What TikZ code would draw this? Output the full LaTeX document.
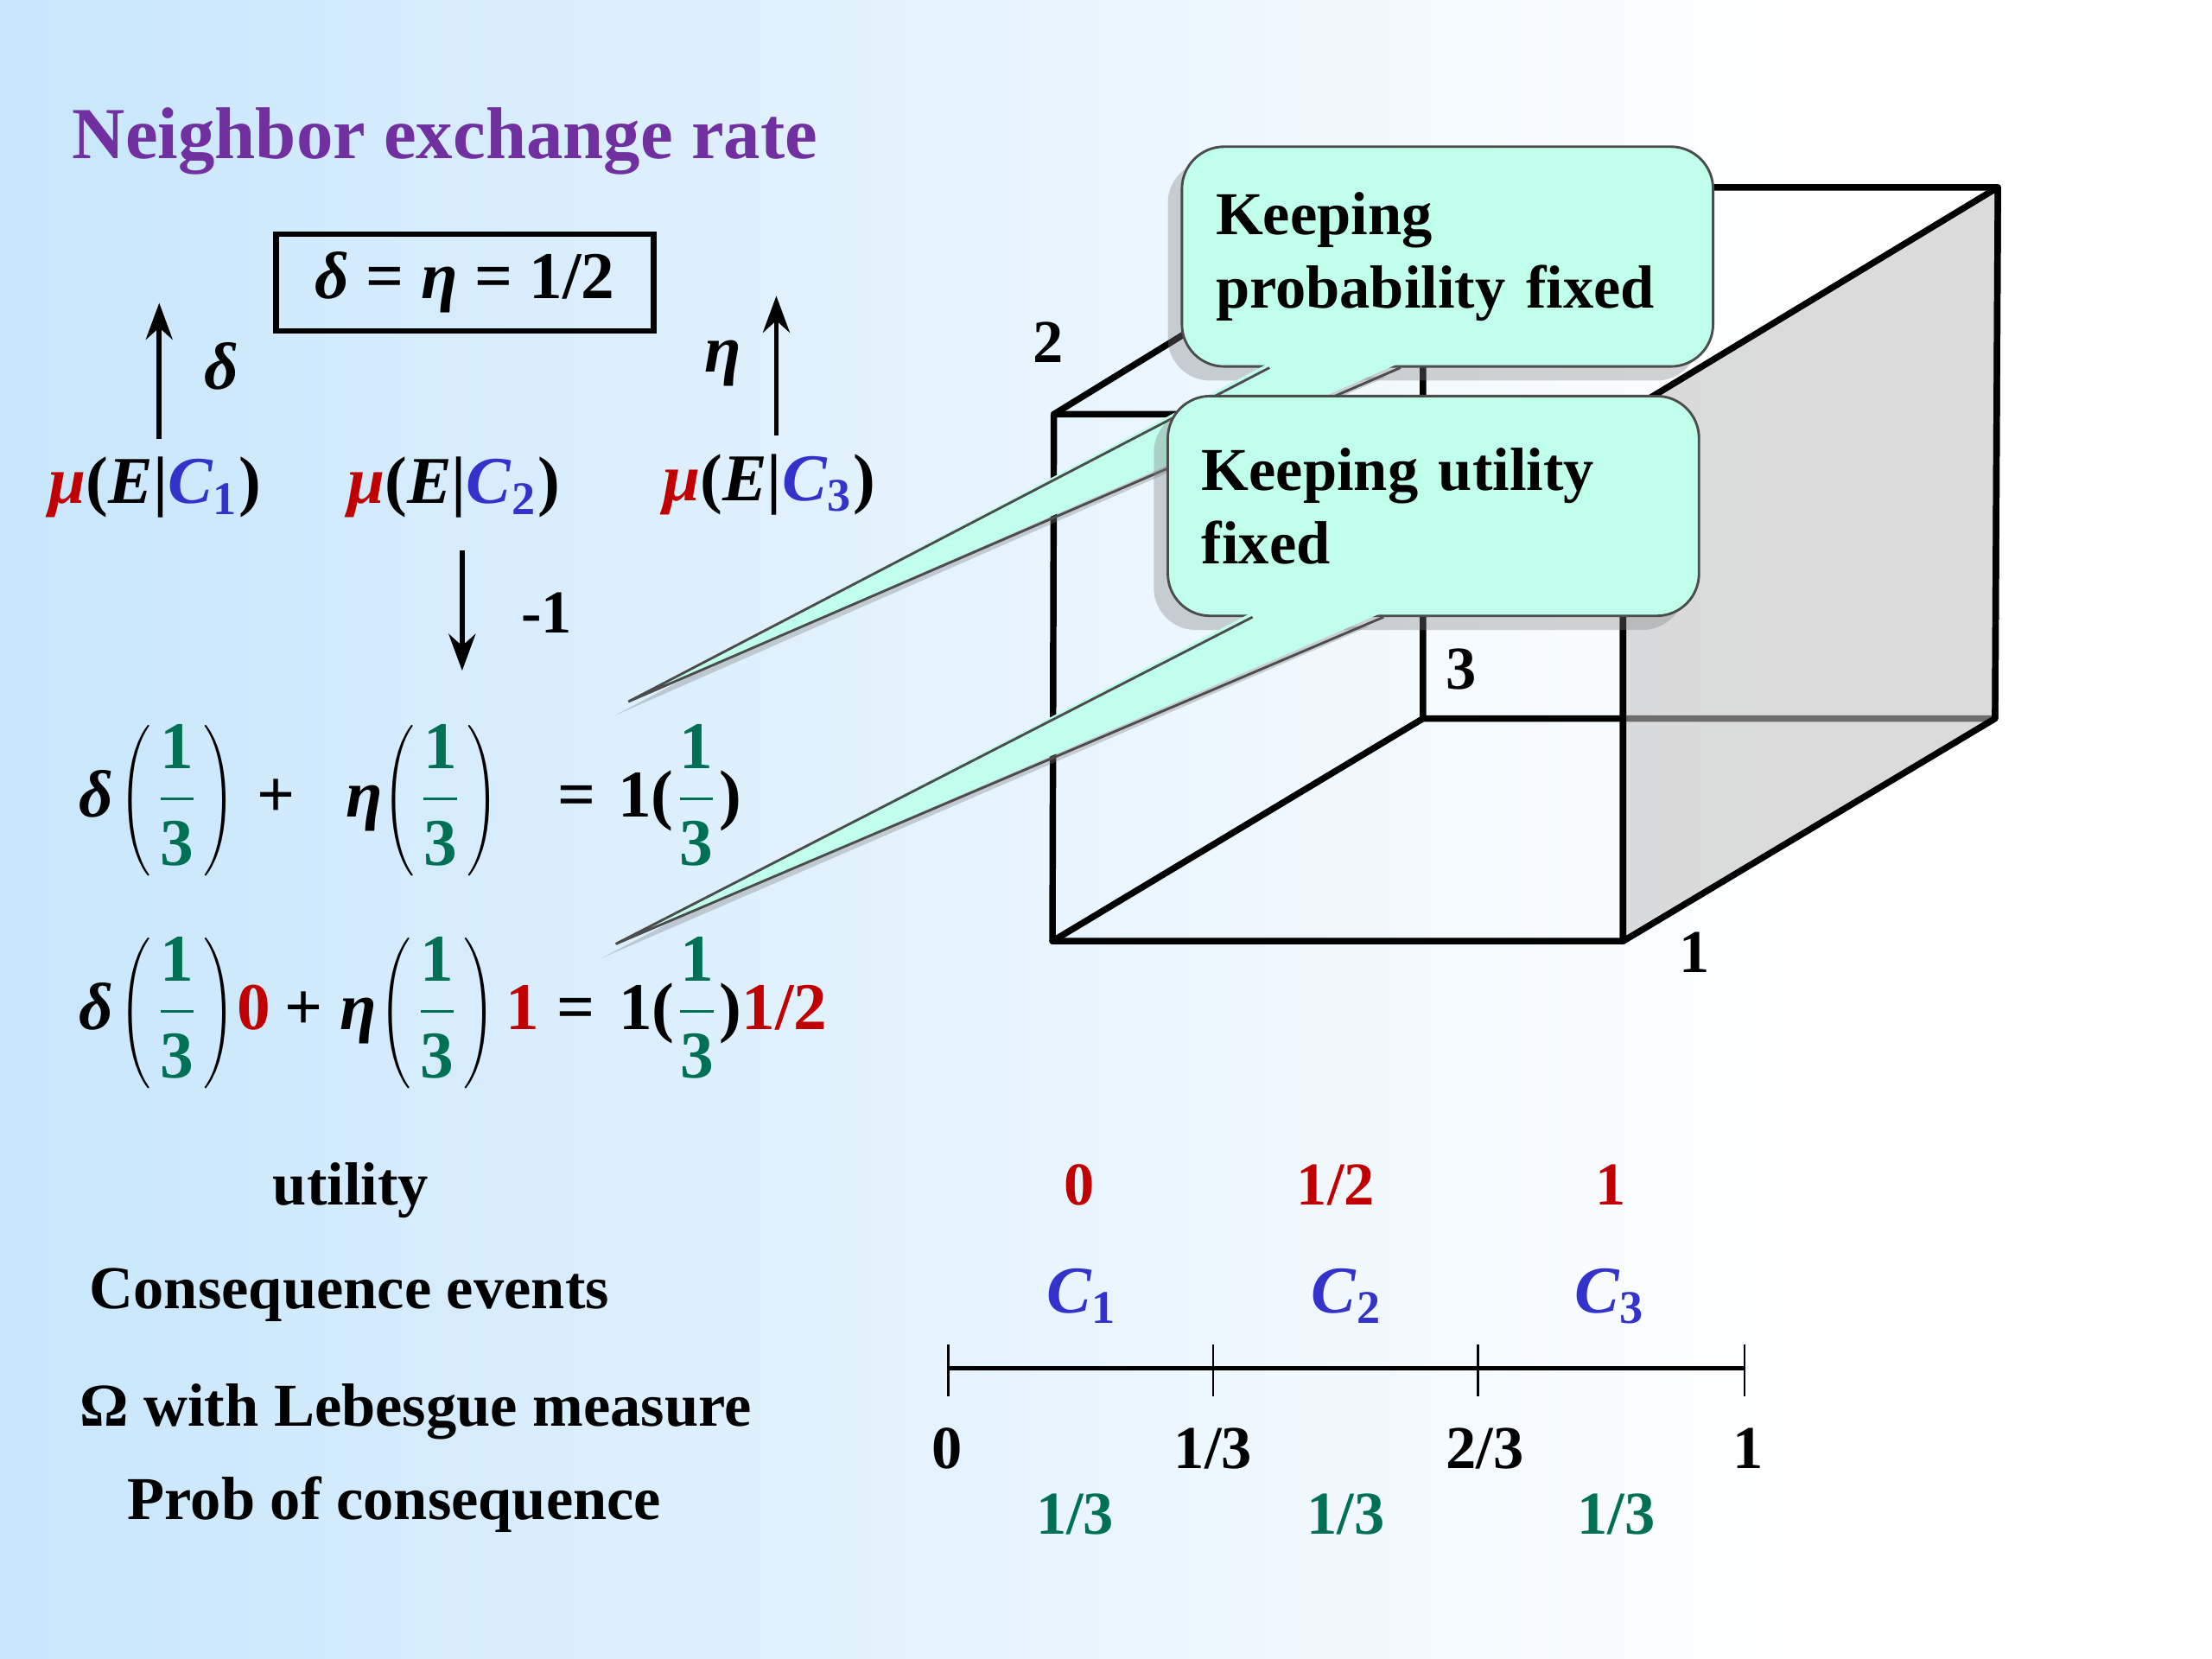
\documentclass[tikz,border=0pt]{standalone}
\usepackage{amsmath}
\usepackage{graphicx}
\usepackage{fontspec}
\setmainfont{Liberation Serif}
\usetikzlibrary{arrows.meta,shadows}
\definecolor{titlepurple}{RGB}{112,48,160}
\definecolor{valred}{RGB}{192,0,0}
\definecolor{evblue}{RGB}{51,51,204}
\definecolor{probgreen}{RGB}{0,112,84}
\definecolor{callfill}{RGB}{192,255,236}
\definecolor{bgblue}{RGB}{200,230,252}
\definecolor{facegray}{RGB}{193,193,193}
\newcommand{\gthird}{{\color{probgreen}\dfrac{\text{1}}{\text{3}}}}
\newcommand{\pfrac}{\scalebox{0.6}[0.88]{$\left(\vphantom{\gthird}\right.$}$\gthird$\scalebox{0.6}[0.88]{$\left.\vphantom{\gthird}\right)$}}
\begin{document}
\begin{tikzpicture}
  [thick,
   txt/.style = {font=\fontsize{12.3}{14.8}\selectfont\bfseries},
   mathtxt/.style = {font=\fontsize{13.5}{16}\selectfont\bfseries},
   arr/.style = {line width=1pt, -{Stealth[length=2.6mm,width=1.9mm]}},
   cubeline/.style = {line width=1.3pt, line cap=round, line join=round},
   callshadow/.style = {drop shadow={shadow xshift=-0.1cm, shadow yshift=-0.1cm, opacity=0.35}},
   callbox/.style = {txt, draw=black!70, line width=0.5pt, fill=callfill,
                     rounded corners=0.3cm, align=left, inner xsep=0.24cm,
                     text width=3.29cm, minimum height=1.56cm, callshadow}]
  \useasboundingbox (0,-0.135) rectangle (15.70,11.64);
  \fill[white] (0,-0.135) rectangle (15.70,11.64);
  \shade[left color=bgblue, right color=white] (0,-0.135) rectangle (12.8,11.64);

  \node[anchor=west, inner sep=0pt, text=titlepurple,
        font=\fontsize{14.8}{17}\selectfont\bfseries] (title) at (0.50,10.64) {Neighbor exchange rate};

  \node[mathtxt, draw, line width=1.1pt, minimum width=2.68cm, minimum height=0.69cm] (rate) at (3.30,9.635) {\textit{δ} = \textit{η} = 1/2};

  \node[mathtxt] (mu1) at (1.10,8.18) {{\color{valred}\textit{μ}}(\textit{E}|{\color{evblue}\textit{C}\textsubscript{1}})};
  \node[mathtxt] (mu2) at (3.22,8.18) {{\color{valred}\textit{μ}}(\textit{E}|{\color{evblue}\textit{C}\textsubscript{2}})};
  \node[mathtxt] (mu3) at (5.46,8.20) {{\color{valred}\textit{μ}}(\textit{E}|{\color{evblue}\textit{C}\textsubscript{3}})};

  \coordinate (dtop) at (1.13,9.49);
  \coordinate (etop) at (5.51,9.54);
  \coordinate (mbot) at (3.28,6.88);
  \draw[arr] (dtop |- mu1.north) -- (dtop);
  \draw[arr] (etop |- mu3.north) -- (etop);
  \draw[arr, shorten <=0.1cm] (mbot |- mu2.south) -- (mbot);
  \node[mathtxt] (dlab) at (1.57,9.04) {\textit{δ}};
  \node[mathtxt] (elab) at (5.13,9.06) {\textit{η}};
  \node[txt] (mone) at (3.88,7.29) {-1};

  \node[mathtxt, anchor=west, inner sep=0pt] (eqprob) at (0.55,5.96)
    {\textit{δ}\hspace{0.04cm}\pfrac\hspace{0.16cm}+\hspace{0.36cm}\textit{η}\pfrac\hspace{0.42cm}=\hspace{0.16cm}1($\gthird$)};
  \node[mathtxt, anchor=west, inner sep=0pt] (equtil) at (0.55,4.45)
    {\textit{δ}\hspace{0.04cm}\pfrac\hspace{0.02cm}{\color{valred}0}\hspace{0.10cm}+\hspace{0.12cm}\textit{η}\hspace{0.02cm}\pfrac\hspace{0.08cm}{\color{valred}1}\hspace{0.12cm}=\hspace{0.17cm}1($\gthird$){\color{valred}1/2}};

  \node[txt] (util) at (2.49,3.19) {utility};
  \node[txt] (cons) at (2.48,2.45) {Consequence events};
  \node[txt] (omega) at (2.95,1.62) {Ω with Lebesgue measure};
  \node[txt] (prob) at (2.80,0.96) {Prob of consequence};

  \node[txt, text=valred] (u1) at (7.66,3.23) {0};
  \node[txt, text=valred] (u2) at (9.48,3.23) {1/2};
  \node[txt, text=valred] (u3) at (11.43,3.23) {1};
  \node[mathtxt, text=evblue] (c1) at (7.68,2.44) {\textit{C}\textsubscript{1}};
  \node[mathtxt, text=evblue] (c2) at (9.56,2.44) {\textit{C}\textsubscript{2}};
  \node[mathtxt, text=evblue] (c3) at (11.43,2.44) {\textit{C}\textsubscript{3}};

  \coordinate (n0) at (6.73,1.93);
  \coordinate (n1) at (8.61,1.93);
  \coordinate (n2) at (10.49,1.93);
  \coordinate (n3) at (12.38,1.93);
  \draw[line width=0.9pt] (n0) -- (n3);
  \foreach \t in {n0,n1,n2,n3}
    \draw[line width=0.4pt] ([yshift=0.17cm]\t) -- ([yshift=-0.2cm]\t);
  \node[txt] (l0) at (6.72,1.36) {0};
  \node[txt] (l1) at (8.61,1.36) {1/3};
  \node[txt] (l2) at (10.54,1.36) {2/3};
  \node[txt] (l3) at (12.41,1.36) {1};
  \node[txt, text=probgreen] (p1) at (7.63,0.89) {1/3};
  \node[txt, text=probgreen] (p2) at (9.55,0.89) {1/3};
  \node[txt, text=probgreen] (p3) at (11.47,0.89) {1/3};

  \coordinate (fbl) at (7.47,4.96);
  \coordinate (fbr) at (11.52,4.96);
  \coordinate (ftr) at (11.52,8.70);
  \coordinate (ftl) at (7.48,8.70);
  \coordinate (bbl) at (10.10,6.54);
  \coordinate (bbr) at (14.16,6.54);
  \coordinate (btr) at (14.18,10.31);
  \coordinate (btl) at (10.10,10.31);
  \draw[cubeline] (fbl) -- (fbr) -- (ftr) -- (ftl) -- cycle;
  \draw[cubeline] (bbl) -- (bbr) -- (btr) -- (btl) -- cycle;
  \draw[cubeline] (fbl) -- (bbl);
  \draw[cubeline] (ftl) -- (btl);
  \fill[facegray, fill opacity=0.57] (fbr) -- (bbr) -- (btr) -- (ftr) -- cycle;
  \draw[cubeline] (fbr) -- (bbr) -- (btr) -- (ftr) -- cycle;
  \node[txt] (ax2) at (7.44,9.21) {2};
  \node[txt] (ax3) at (10.37,6.89) {3};
  \node[txt] (ax1) at (12.03,4.88) {1};

  \coordinate (k1sw) at (8.38,9.03);
  \coordinate (tip1) at (4.46,6.66);
  \fill[callfill, callshadow] ([xshift=0.63cm,yshift=1pt]k1sw) -- (tip1) -- ([xshift=1.56cm,yshift=1pt]k1sw) -- cycle;
  \node[callbox, anchor=south west] (keep1) at (k1sw) {Keeping\\probability fixed};
  \fill[callfill] ([xshift=0.63cm,yshift=1pt]k1sw) -- (tip1) -- ([xshift=1.56cm,yshift=1pt]k1sw) -- cycle;
  \draw[draw=black!70, line width=0.5pt] ([xshift=0.63cm]k1sw) -- (tip1) -- ([xshift=1.56cm]k1sw);

  \coordinate (k2sw) at (8.28,7.26);
  \coordinate (tip2) at (4.37,4.94);
  \fill[callfill, callshadow] ([xshift=0.61cm,yshift=1pt]k2sw) -- (tip2) -- ([xshift=1.54cm,yshift=1pt]k2sw) -- cycle;
  \node[callbox, anchor=south west] (keep2) at (k2sw) {Keeping utility\\fixed};
  \fill[callfill] ([xshift=0.61cm,yshift=1pt]k2sw) -- (tip2) -- ([xshift=1.54cm,yshift=1pt]k2sw) -- cycle;
  \draw[draw=black!70, line width=0.5pt] ([xshift=0.61cm]k2sw) -- (tip2) -- ([xshift=1.54cm]k2sw);
\end{tikzpicture}
\end{document}
